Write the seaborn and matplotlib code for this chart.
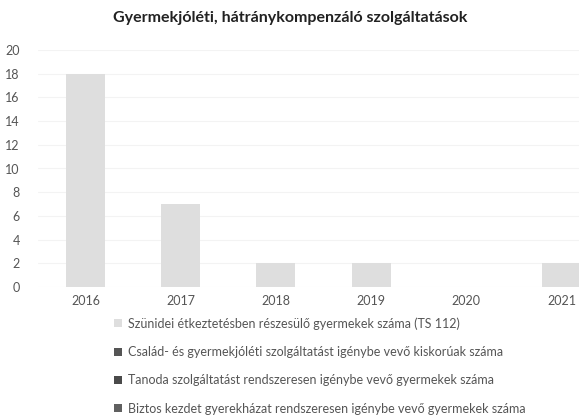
import pandas as pd
import seaborn as sns
import matplotlib.pyplot as plt

# Values
years = ['2016', '2017', '2018', '2019', '2020', '2021']
szunidei = [18, 7, 2, 2, 0, 2]
csalad = [0, 0, 0, 0, 0, 0]
tanoda = [0, 0, 0, 0, 0, 0]
biztos = [0, 0, 0, 0, 0, 0]

labels = [
    'Szünidei étkeztetésben részesülő gyermekek száma (TS 112)',
    'Család- és gyermekjóléti szolgáltatást igénybe vevő kiskorúak száma',
    'Tanoda szolgáltatást rendszeresen igénybe vevő gyermekek száma',
    'Biztos kezdet gyerekházat rendszeresen igénybe vevő gyermekek száma',
]
colors = ['#dedede', '#555555', '#4a4a4a', '#606060']

df = pd.DataFrame({'Év': years, 's1': szunidei, 's2': csalad, 's3': tanoda, 's4': biztos})

sns.set_style('white')
plt.rcParams['font.family'] = ['Lato', 'DejaVu Sans']

fig = plt.figure(figsize=(5.79, 4.19), dpi=100)
# plot area runs past the right edge, as in the cropped original
ax = fig.add_axes([38 / 579, 1 - 287 / 419, 571 / 579, 237 / 419])

bottom = [0] * len(years)
for col, lab, c in zip(['s1', 's2', 's3', 's4'], labels, colors):
    sns.barplot(data=df, x='Év', y=col, color=c, width=0.41, bottom=bottom,
                label=lab, ax=ax, edgecolor='none', saturation=1)
    bottom = [b + v for b, v in zip(bottom, df[col])]

ax.set_ylim(0, 20)
ax.set_yticks(range(0, 21, 2))
ax.yaxis.grid(True, color='#f3f3f3', linewidth=0.8)
ax.set_axisbelow(True)
for s in ax.spines.values():
    s.set_visible(False)
ax.set_xlabel('')
ax.set_ylabel('')
ax.tick_params(axis='both', length=0, colors='#555555', labelsize=9)
ax.tick_params(axis='y', pad=13)
ax.tick_params(axis='x', pad=6)
if ax.get_legend():
    ax.get_legend().remove()

fig.text(290 / 579, 1 - 18 / 419, 'Gyermekjóléti, hátránykompenzáló szolgáltatások',
         ha='center', va='center', fontsize=11.5, fontweight='bold', color='#222222')

handles, hlabels = ax.get_legend_handles_labels()
fig.legend(handles, hlabels, loc='upper left', bbox_to_anchor=(103 / 579, 1 - 306 / 419),
           frameon=False, fontsize=9, labelcolor='#555555', handlelength=0.6,
           handleheight=0.6, handletextpad=0.5, labelspacing=1.3)

fig.savefig('out.png', dpi=100)
